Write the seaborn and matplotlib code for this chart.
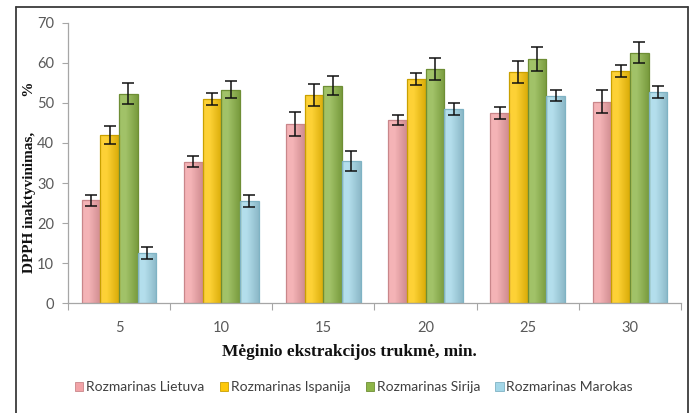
import matplotlib
matplotlib.use("Agg")
import matplotlib.pyplot as plt
from matplotlib.lines import Line2D
from matplotlib.colors import to_rgb
import numpy as np
import pandas as pd
import seaborn as sns

# Extraction time (min) and DPPH inactivation (%) per rosemary origin
times = ["5", "10", "15", "20", "25", "30"]
series = ["Rozmarinas Lietuva", "Rozmarinas Ispanija", "Rozmarinas Sirija", "Rozmarinas Marokas"]
lietuva = [25.7, 35.3, 44.8, 45.7, 47.5, 50.3]
ispanija = [42.0, 51.0, 52.0, 56.0, 57.7, 58.0]
sirija = [52.3, 53.3, 54.3, 58.4, 61.0, 62.5]
marokas = [12.6, 25.5, 35.5, 48.5, 51.8, 52.8]
err_lietuva = [1.4, 1.4, 3.0, 1.3, 1.5, 2.9]
err_ispanija = [2.2, 1.5, 2.7, 1.5, 2.8, 1.5]
err_sirija = [2.7, 2.2, 2.4, 2.8, 3.0, 2.6]
err_marokas = [1.5, 1.4, 2.6, 1.5, 1.4, 1.5]

colors = ["#F2A3A7", "#FDC80A", "#8DB548", "#A3D7E8"]
edges = ["#C9868A", "#C9A000", "#6E8E35", "#7FB3C4"]

values = [lietuva, ispanija, sirija, marokas]
errors = [err_lietuva, err_ispanija, err_sirija, err_marokas]

df = pd.DataFrame({
    "time": np.tile(times, len(series)),
    "series": np.repeat(series, len(times)),
    "value": np.concatenate(values),
})

sns.set_style("white")
plt.rcParams["font.family"] = ["Lato", "DejaVu Sans"]

fig = plt.figure(figsize=(6.91, 4.13), dpi=100)
ax = fig.add_axes([68 / 691, 1 - 303.3 / 413, 613 / 691, (303.3 - 22.7) / 413])

sns.barplot(data=df, x="time", y="value", hue="series", order=times,
            hue_order=series, palette=colors, width=0.73, ax=ax,
            errorbar=None, legend=False, saturation=1, linewidth=0.9)


def shaded(color, n=32):
    """Horizontal shading strip: lighter towards the left, darker at the right edge."""
    base = np.array(to_rgb(color))
    t = np.linspace(0, 1, n)
    light = base + (1 - base) * 0.18
    dark = base * 0.86
    mix = np.where(t < 0.35, 0, (t - 0.35) / 0.65)[:, None]
    strip = light * (1 - mix) + dark * mix
    return strip[None, :, :]


for cont, color, edge, err in zip(ax.containers, colors, edges, errors):
    xs, ys = [], []
    grad = shaded(color)
    for bar in cont:
        bar.set_edgecolor(edge)
        x, w, h = bar.get_x(), bar.get_width(), bar.get_height()
        im = ax.imshow(grad, extent=(x, x + w, 0, h), aspect="auto",
                       interpolation="bilinear", zorder=bar.get_zorder() - 0.01)
        im.set_clip_path(bar)
        bar.set_facecolor("none")
        xs.append(x + w / 2)
        ys.append(h)
    ax.errorbar(xs, ys, yerr=err, fmt="none", ecolor="#111111",
                elinewidth=1.1, capsize=4, capthick=1.1, zorder=5)

ax.set_ylim(0, 70)
ax.set_xlim(-0.5, len(times) - 0.5)
ax.set_yticks(range(0, 71, 10))
ax.set_xlabel("")
ax.set_ylabel("")

for s in ["top", "right"]:
    ax.spines[s].set_visible(False)
for s in ["left", "bottom"]:
    ax.spines[s].set_color("#A6A6A6")
    ax.spines[s].set_linewidth(0.9)

ax.tick_params(axis="y", which="both", left=True, length=4, width=0.8,
               color="#A6A6A6", labelsize=10.5, labelcolor="#595959", pad=6)
ax.tick_params(axis="x", which="major", bottom=False, labelsize=10.5,
               labelcolor="#595959", pad=9)
ax.set_xticks(np.arange(-0.5, len(times), 1.0), minor=True)
ax.tick_params(axis="x", which="minor", bottom=True, length=5, width=0.8,
               color="#A6A6A6")

fig.text(30 / 691, 1 - 177 / 413, "DPPH inaktyvinimas,         %", rotation=90,
         ha="center", va="center", fontsize=11, fontweight="bold",
         family="Liberation Serif", color="#111111")
fig.text(349 / 691, 1 - 352 / 413, "Mėginio ekstrakcijos trukmė, min.",
         ha="center", va="center", fontsize=12.4, fontweight="bold",
         family="Liberation Serif", color="#111111")

handles = [plt.Rectangle((0, 0), 1, 1, facecolor=c, edgecolor=e, linewidth=0.6)
           for c, e in zip(colors, edges)]
fig.legend(handles, series, loc="center", bbox_to_anchor=(354 / 691, 1 - 387 / 413),
           ncol=4, frameon=False, fontsize=10, labelcolor="#404040",
           handlelength=0.6, handleheight=0.6, handletextpad=0.2,
           columnspacing=1.1, borderaxespad=0)

# Outer frame around the chart area (open at the bottom)
x0, x1, y0 = 16 / 691, 688 / 691, 1 - 7 / 413
for xs_, ys_ in [((x0, x0), (0, y0)), ((x0, x1), (y0, y0)), ((x1, x1), (y0, 0))]:
    fig.add_artist(Line2D(xs_, ys_, transform=fig.transFigure,
                          color="#3A3A3A", linewidth=1.3))

fig.savefig("out.png", dpi=100)
